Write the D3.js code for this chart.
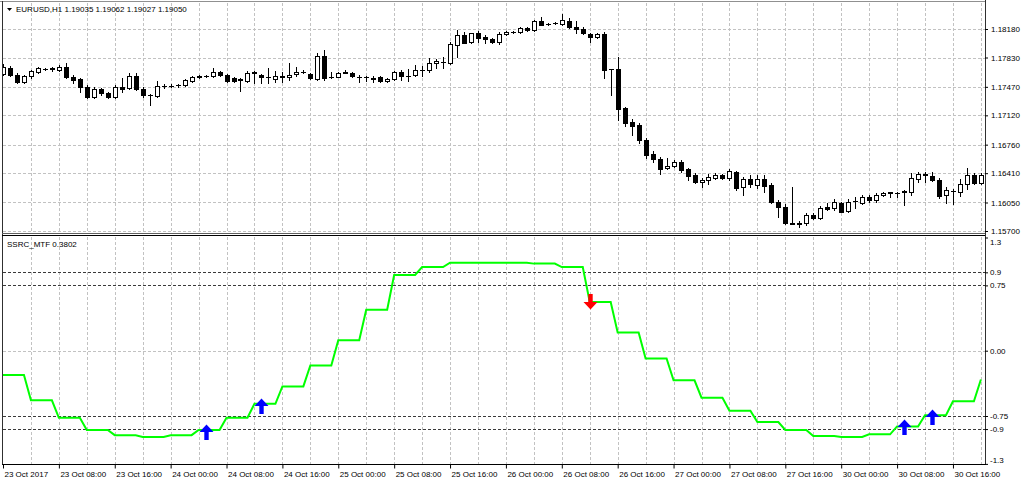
<!DOCTYPE html>
<html><head><meta charset="utf-8">
<script src="https://cdn.jsdelivr.net/npm/d3@7"></script>
<style>
html,body{margin:0;padding:0;background:#fff;overflow:hidden;}
svg{display:block;}
</style></head><body>
<svg id="chart" width="1024" height="484"></svg>
<script>
// ---------------- DATA ----------------
const opens = [
1.17628,1.17701,1.17615,1.17529,1.17603,1.17652,1.17689,1.17701,1.17677,1.17713,
1.17591,1.17566,1.17468,1.17345,1.17443,1.17394,1.17345,1.17468,1.17456,1.17603,
1.17443,1.17370,1.17357,1.17480,1.17478,1.17488,1.17492,1.17542,1.17597,1.17603,
1.17603,1.17652,1.17615,1.17578,1.17566,1.17542,1.17640,1.17615,1.17591,1.17566,
1.17591,1.17591,1.17628,1.17652,1.17628,1.17566,1.17849,1.17591,1.17591,1.17640,
1.17640,1.17591,1.17591,1.17578,1.17591,1.17542,1.17566,1.17652,1.17603,1.17615,
1.17677,1.17677,1.17763,1.17775,1.17763,1.17984,1.18106,1.18020,1.18131,1.18082,
1.18057,1.18020,1.18119,1.18143,1.18143,1.18192,1.18168,1.18278,1.18241,1.18254,
1.18241,1.18278,1.18205,1.18180,1.18119,1.18082,1.18119,1.17689,1.17689,1.17210,
1.17038,1.17001,1.16817,1.16645,1.16584,1.16474,1.16498,1.16547,1.16461,1.16388,
1.16302,1.16326,1.16351,1.16388,1.16351,1.16424,1.16240,1.16338,1.16265,1.16338,
1.16265,1.16056,1.15995,1.15798,1.15798,1.15798,1.15896,1.15859,1.15995,1.15982,
1.16044,1.15945,1.16068,1.16044,1.16117,1.16081,1.16142,1.16167,1.16167,1.16179,
1.16179,1.16338,1.16388,1.16375,1.16326,1.16142,1.16197,1.16179,1.16277,1.16388,
1.16289];
const highs = [
1.17750,1.17726,1.17640,1.17615,1.17677,1.17713,1.17701,1.17713,1.17738,1.17763,
1.17615,1.17578,1.17492,1.17468,1.17456,1.17406,1.17492,1.17578,1.17640,1.17640,
1.17468,1.17382,1.17542,1.17505,1.17499,1.17505,1.17566,1.17609,1.17615,1.17621,
1.17701,1.17664,1.17628,1.17591,1.17578,1.17664,1.17664,1.17628,1.17701,1.17664,
1.17652,1.17763,1.17713,1.17677,1.17640,1.17885,1.17922,1.17652,1.17652,1.17677,
1.17652,1.17615,1.17609,1.17603,1.17597,1.17578,1.17664,1.17677,1.17689,1.17738,
1.17726,1.17824,1.17812,1.17836,1.18020,1.18168,1.18143,1.18137,1.18155,1.18106,
1.18070,1.18143,1.18155,1.18155,1.18205,1.18205,1.18290,1.18327,1.18254,1.18260,
1.18364,1.18315,1.18278,1.18205,1.18131,1.18131,1.18143,1.17689,1.17836,1.17222,
1.17075,1.17026,1.16842,1.16682,1.16608,1.16596,1.16572,1.16572,1.16474,1.16412,
1.16351,1.16400,1.16412,1.16400,1.16461,1.16437,1.16363,1.16388,1.16388,1.16388,
1.16289,1.16081,1.16031,1.16240,1.15823,1.15921,1.15921,1.16007,1.16044,1.16093,
1.16056,1.16093,1.16117,1.16142,1.16142,1.16167,1.16179,1.16179,1.16179,1.16203,
1.16412,1.16424,1.16424,1.16424,1.16351,1.16240,1.16216,1.16338,1.16474,1.16412,
1.16412];
const lows = [
1.17615,1.17603,1.17517,1.17517,1.17578,1.17640,1.17677,1.17664,1.17664,1.17578,
1.17517,1.17406,1.17333,1.17333,1.17370,1.17333,1.17333,1.17406,1.17443,1.17431,
1.17345,1.17247,1.17345,1.17456,1.17462,1.17468,1.17480,1.17535,1.17578,1.17585,
1.17591,1.17603,1.17529,1.17529,1.17419,1.17529,1.17517,1.17517,1.17517,1.17529,
1.17529,1.17554,1.17603,1.17640,1.17566,1.17554,1.17554,1.17578,1.17585,1.17634,
1.17585,1.17529,1.17542,1.17529,1.17529,1.17535,1.17554,1.17554,1.17542,1.17603,
1.17603,1.17652,1.17701,1.17701,1.17750,1.17836,1.18002,1.18014,1.18020,1.18008,
1.18014,1.17996,1.18106,1.18131,1.18137,1.18155,1.18155,1.18223,1.18229,1.18241,
1.18229,1.18198,1.18131,1.18119,1.18020,1.18070,1.17578,1.17370,1.17063,1.16989,
1.16878,1.16780,1.16596,1.16547,1.16400,1.16461,1.16486,1.16424,1.16326,1.16289,
1.16240,1.16277,1.16338,1.16338,1.16326,1.16203,1.16142,1.16240,1.16228,1.16179,
1.16044,1.15872,1.15786,1.15786,1.15749,1.15774,1.15853,1.15847,1.15958,1.15958,
1.15930,1.15933,1.15982,1.16031,1.16056,1.16056,1.16130,1.16117,1.16117,1.16019,
1.16142,1.16302,1.16302,1.16314,1.16105,1.16044,1.16031,1.16130,1.16216,1.16277,
1.16277];
const closes = [
1.17713,1.17615,1.17529,1.17603,1.17664,1.17701,1.17692,1.17689,1.17713,1.17591,
1.17554,1.17468,1.17345,1.17443,1.17394,1.17345,1.17468,1.17443,1.17603,1.17443,
1.17370,1.17364,1.17480,1.17478,1.17480,1.17492,1.17554,1.17591,1.17591,1.17600,
1.17652,1.17615,1.17542,1.17542,1.17560,1.17640,1.17646,1.17591,1.17585,1.17603,
1.17597,1.17615,1.17652,1.17658,1.17578,1.17849,1.17578,1.17585,1.17640,1.17646,
1.17597,1.17585,1.17588,1.17572,1.17542,1.17566,1.17652,1.17603,1.17597,1.17677,
1.17671,1.17763,1.17787,1.17769,1.17996,1.18106,1.18014,1.18131,1.18070,1.18057,
1.18020,1.18119,1.18143,1.18149,1.18192,1.18168,1.18278,1.18229,1.18237,1.18248,
1.18290,1.18209,1.18180,1.18131,1.18082,1.18119,1.17677,1.17683,1.17198,1.17026,
1.16989,1.16817,1.16633,1.16584,1.16461,1.16498,1.16547,1.16449,1.16375,1.16302,
1.16326,1.16363,1.16388,1.16351,1.16437,1.16228,1.16338,1.16277,1.16338,1.16253,
1.16056,1.15995,1.15798,1.15792,1.15792,1.15896,1.15863,1.15982,1.15970,1.16056,
1.15937,1.16056,1.16074,1.16117,1.16081,1.16142,1.16167,1.16173,1.16170,1.16185,
1.16351,1.16400,1.16394,1.16326,1.16130,1.16203,1.16191,1.16277,1.16388,1.16289,
1.16388];
// SSRC_MTF (H4 values shown on each H1 bar)
const ssrc = [
-0.28,-0.28,-0.28,-0.28, -0.57,-0.57,-0.57,-0.57, -0.77,-0.77,-0.77,-0.77,
-0.91,-0.91,-0.91,-0.91, -0.97,-0.97,-0.97,-0.97, -0.99,-0.99,-0.99,-0.99,
-0.97,-0.97,-0.97,-0.97, -0.91,-0.91,-0.91,-0.91, -0.77,-0.77,-0.77,-0.77,
-0.61,-0.61,-0.61,-0.61, -0.41,-0.41,-0.41,-0.41, -0.17,-0.17,-0.17,-0.17,
 0.12, 0.12, 0.12, 0.12,  0.47, 0.47, 0.47, 0.47,  0.87, 0.87, 0.87, 0.87,
 0.96, 0.96, 0.96, 0.96,  1.01, 1.01, 1.01, 1.01,  1.01, 1.01, 1.01, 1.01,
 1.01, 1.01, 1.01, 1.01,  1.00, 1.00, 1.00, 1.00,  0.96, 0.96, 0.96, 0.96,
 0.56, 0.56, 0.56, 0.56,  0.21, 0.21, 0.21, 0.21, -0.09,-0.09,-0.09,-0.09,
-0.34,-0.34,-0.34,-0.34, -0.54,-0.54,-0.54,-0.54, -0.69,-0.69,-0.69,-0.69,
-0.82,-0.82,-0.82,-0.82, -0.91,-0.91,-0.91,-0.91, -0.98,-0.98,-0.98,-0.98,
-0.99,-0.99,-0.99,-0.99, -0.96,-0.96,-0.96,-0.96, -0.87,-0.87,-0.87,-0.87,
-0.74,-0.74,-0.74,-0.74, -0.58,-0.58,-0.58,-0.58, -0.33];
const upArrowBars = [29, 37, 129, 133];
const upArrowValues = [-0.847, -0.549, -0.790, -0.675];
const downArrowBars = [84];
const downArrowValues = [0.473];
const priceTicks = [1.18180, 1.17830, 1.17470, 1.17120, 1.16760, 1.16410, 1.16050, 1.15700];
const indTicks = [1.3, 0.9, 0.75, 0.00, -0.75, -0.9, -1.3];
const indTickLabels = ["1.3", "0.9", "0.75", "0.00", "-0.75", "-0.9", "-1.3"];
const levels = [0.9, 0.75, -0.75, -0.9];
const timeLabels = ["23 Oct 2017","23 Oct 08:00","23 Oct 16:00","24 Oct 00:00","24 Oct 08:00",
 "24 Oct 16:00","25 Oct 00:00","25 Oct 08:00","25 Oct 16:00","26 Oct 00:00","26 Oct 08:00",
 "26 Oct 16:00","27 Oct 00:00","27 Oct 08:00","27 Oct 16:00","30 Oct 00:00","30 Oct 08:00","30 Oct 16:00"];
const timeLabelBars = [0,8,16,24,32,40,48,56,64,72,80,88,96,104,112,120,128,136];
const gridBars = [4,8,12,16,20,24,28,32,36,40,44,48,52,56,60,64,68,72,76,80,84,88,92,96,100,
 104,108,112,116,120,124,128,132,136,140];
const titleText = "EURUSD,H1  1.19035 1.19062 1.19027 1.19050";
const indTitle = "SSRC_MTF 0.3802";

// ---------------- LAYOUT ----------------
const FONT = "'Liberation Sans', Arial, sans-serif";
const axisX = 985;
const up = {top: 3, bottom: 233};
const lo = {top: 237, bottom: 464};
const x = d3.scaleLinear().domain([0, 140]).range([3, 3 + 6.985 * 140]);
const yP = d3.scaleLinear().domain([1.15700, 1.18180]).range([231, 29]);
const yI = d3.scaleLinear().domain([-1.3, 1.3]).range([463.9, 237.5]);
const px = i => Math.round(x(i));

const svg = d3.select('#chart');
const defs = svg.append('defs');
defs.append('clipPath').attr('id','clipUp').append('rect')
  .attr('x',3).attr('y',up.top).attr('width',axisX-3).attr('height',up.bottom-up.top);
defs.append('clipPath').attr('id','clipLo').append('rect')
  .attr('x',3).attr('y',lo.top).attr('width',axisX-3).attr('height',lo.bottom-lo.top);

// grid
const grid = svg.append('g').attr('stroke','#c2c2c2').attr('stroke-dasharray','3,2').attr('stroke-width',1);
gridBars.forEach(b => {
  const gx = px(b) + 0.5;
  grid.append('line').attr('x1',gx).attr('x2',gx).attr('y1',up.top).attr('y2',up.bottom);
  grid.append('line').attr('x1',gx).attr('x2',gx).attr('y1',lo.top).attr('y2',lo.bottom);
});
priceTicks.forEach(v => {
  const gy = Math.round(yP(v)) + 0.5;
  grid.append('line').attr('x1',3).attr('x2',axisX).attr('y1',gy).attr('y2',gy);
});
{
  const gy = Math.round(yI(0)) + 0.5;
  grid.append('line').attr('x1',3).attr('x2',axisX).attr('y1',gy).attr('y2',gy);
}
// levels
const lev = svg.append('g').attr('stroke','#3a3a3a').attr('stroke-dasharray','3,2').attr('stroke-width',1);
levels.forEach(v => {
  const gy = Math.round(yI(v)) + 0.5;
  lev.append('line').attr('x1',3).attr('x2',axisX).attr('y1',gy).attr('y2',gy);
});

// candles
const cg = svg.append('g').attr('clip-path','url(#clipUp)');
opens.forEach((o, i) => {
  const c = closes[i], h = highs[i], l = lows[i];
  const cx = px(i);
  const yTop = Math.round(yP(Math.max(o, c)));
  const yBot = Math.round(yP(Math.min(o, c)));
  cg.append('line').attr('x1',cx+0.5).attr('x2',cx+0.5)
    .attr('y1',Math.round(yP(h))).attr('y2',Math.round(yP(l))+1)
    .attr('stroke','#000').attr('stroke-width',1);
  if (yBot - yTop < 1) {
    cg.append('rect').attr('x',cx-2).attr('y',yTop).attr('width',5).attr('height',1).attr('fill','#000');
  } else if (c >= o) {
    cg.append('rect').attr('x',cx-1.5).attr('y',yTop+0.5).attr('width',4).attr('height',yBot-yTop)
      .attr('fill','#fff').attr('stroke','#000').attr('stroke-width',1);
  } else {
    cg.append('rect').attr('x',cx-2).attr('y',yTop).attr('width',5).attr('height',yBot-yTop+1)
      .attr('fill','#000');
  }
});

// indicator line
const lg = svg.append('g').attr('clip-path','url(#clipLo)');
lg.append('path').datum(ssrc)
  .attr('d', d3.line().x((d,i)=>x(i)).y(d=>yI(d)))
  .attr('fill','none').attr('stroke','#00ff00').attr('stroke-width',2).attr('stroke-linejoin','miter');

// arrows
const upPath = 'M0,0 L7,7.5 L2.2,7.5 L2.2,15.5 L-2.2,15.5 L-2.2,7.5 L-7,7.5 Z';
const downPath = 'M0,0 L7,-7.5 L2.2,-7.5 L2.2,-15.5 L-2.2,-15.5 L-2.2,-7.5 L-7,-7.5 Z';
upArrowBars.forEach((b, k) => {
  lg.append('path').attr('d', upPath)
    .attr('transform', `translate(${px(b)+0.5},${yI(upArrowValues[k])})`).attr('fill','#0000ff');
});
downArrowBars.forEach((b, k) => {
  lg.append('path').attr('d', downPath)
    .attr('transform', `translate(${px(b)+0.5},${yI(downArrowValues[k])})`).attr('fill','#ff0000');
});

// frame
const fr = svg.append('g').attr('stroke','#303030').attr('stroke-width',1);
fr.append('line').attr('x1',0).attr('x2',axisX).attr('y1',1.5).attr('y2',1.5).attr('stroke','#909090');
fr.append('line').attr('x1',2.5).attr('x2',2.5).attr('y1',1).attr('y2',465);
fr.append('line').attr('x1',axisX+0.5).attr('x2',axisX+0.5).attr('y1',0).attr('y2',465);
fr.append('line').attr('x1',2).attr('x2',axisX).attr('y1',233.5).attr('y2',233.5).attr('stroke','#606060');
fr.append('line').attr('x1',2).attr('x2',axisX).attr('y1',235.5).attr('y2',235.5).attr('stroke','#000');
fr.append('line').attr('x1',2).attr('x2',axisX+1).attr('y1',464.5).attr('y2',464.5).attr('stroke','#000');

// axes
function styleAxis(g){
  g.attr('font-size',8).attr('font-family',FONT);
  g.select('.domain').remove();
  g.selectAll('text').attr('fill','#000');
  g.selectAll('line').attr('stroke','#000');
}
svg.append('g').attr('transform',`translate(${axisX},0)`)
  .call(d3.axisRight(yP).tickValues(priceTicks).tickFormat(d3.format('.5f')).tickSize(3).tickPadding(3))
  .call(styleAxis);
const ia = svg.append('g').attr('transform',`translate(${axisX},0)`)
  .call(d3.axisRight(yI).tickValues(indTicks).tickFormat((d,i)=>indTickLabels[i]).tickSize(3).tickPadding(2))
  .call(styleAxis);
ia.selectAll('text').attr('y', d => d === 1.3 ? 4.5 : (d === -1.3 ? -4 : 0));
const ta = svg.append('g').attr('transform',`translate(0,${lo.bottom+0.5})`)
  .call(d3.axisBottom(x).tickValues(timeLabelBars).tickFormat((d,i)=>timeLabels[i]).tickSize(4).tickPadding(3))
  .call(styleAxis);
ta.selectAll('text').attr('text-anchor','start').attr('x',1);

// titles
svg.append('path').attr('d','M7,8 L12,8 L9.5,11 Z').attr('fill','#000');
svg.append('text').attr('x',16).attr('y',12).attr('font-size',8).attr('font-family',FONT)
  .attr('fill','#000').text(titleText);
svg.append('text').attr('x',7).attr('y',247).attr('font-size',8).attr('font-family',FONT)
  .attr('fill','#000').text(indTitle);
</script>
</body></html>
